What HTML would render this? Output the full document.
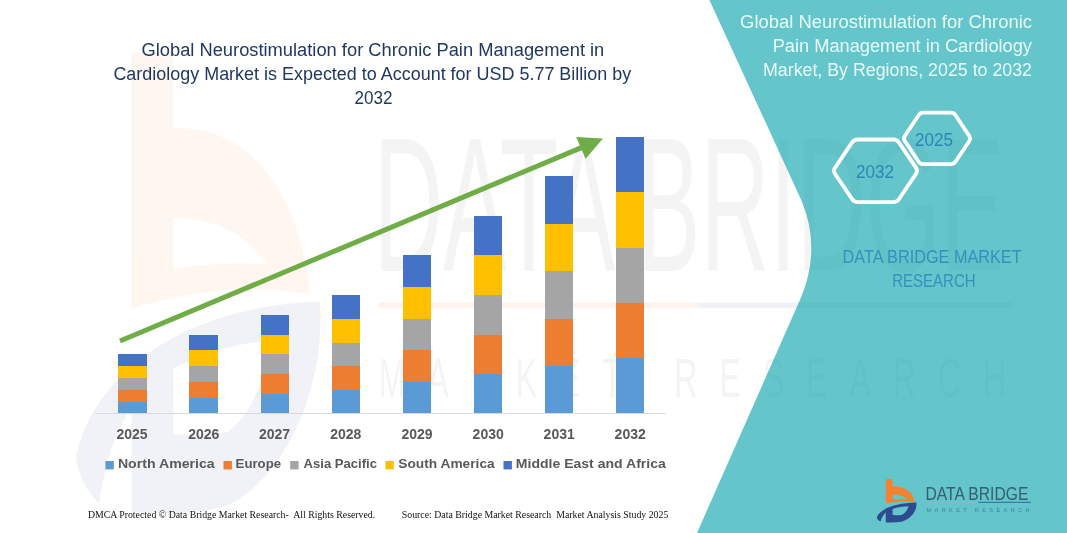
<!DOCTYPE html>
<html lang="en">
<head>
<meta charset="utf-8">
<title>Global Neurostimulation for Chronic Pain Management in Cardiology Market</title>
<style>
html,body{margin:0;padding:0;background:#fff;}
body{width:1067px;height:533px;overflow:hidden;}
svg{display:block;}
.sans{font-family:"Liberation Sans","DejaVu Sans",sans-serif;}
.serif{font-family:"Liberation Serif","DejaVu Serif",serif;}
</style>
</head>
<body>
<svg width="1067" height="533" viewBox="0 0 1067 533">
<rect width="1067" height="533" fill="#ffffff"/>

<!-- faint watermark (enlarged logo) -->
<g id="watermark" opacity="0.088" transform="translate(131.5,52.4) scale(6.15,10.6) translate(-885.8,-479.1)">
  <path d="M885.8 479.6 Q885.8 479.1 886.3 479.1 H892.1 Q892.6 479.1 892.6 479.6 V486.3 C903 485.8 913 491 914.8 501.9 C905 500.9 895 501.6 885.8 503.3 Z M892.6 494.7 C899 494.7 904.5 496.2 907.8 499.1 C902 498.9 897 499.1 892.6 499.6 Z" fill="#F58233" fill-opacity="0.85" fill-rule="evenodd"/>
  <path d="M876.8 517.2 C880 509 895 503 916.4 502.6 C917.5 510 911.5 519 901.5 521.8 C896 522.8 890 522.6 885.8 522.4 V512.5 C883 515 881.5 518 880.5 521.6 C878.5 520.5 877 519 876.8 517.2 Z M892.6 508.9 C898 507.3 903 506.5 908.6 506.3 C907.3 510.5 905 513.4 901.5 514.9 C898 515.2 895 515.2 892.6 515.1 Z" fill="#2F4B8F" fill-opacity="0.8" fill-rule="evenodd"/>
  <text class="sans" x="925.2" y="499.7" font-size="18" fill="#8E8E8E" textLength="102.5" lengthAdjust="spacingAndGlyphs">DATA BRIDGE</text>
  <rect x="926" y="502.7" width="52" height="0.5" fill="#F58233"/>
  <rect x="978" y="502.7" width="51" height="0.5" fill="#5B6B8F"/>
  <text class="sans" x="926" y="511.6" font-size="5.2" fill="#8E8E8E" textLength="102" lengthAdjust="spacing">MARKET RESEARCH</text>
</g>

<!-- teal panel -->
<path id="teal" d="M709.4 0 L801.2 200 Q821.6 247.6 801 297.5 L697 533 H1067 V0 Z" fill="rgb(17,166,175)" fill-opacity="0.65"/>

<!-- main title -->
<g class="sans" fill="#203864" font-size="18">
  <text x="141.5" y="56" textLength="462.8" lengthAdjust="spacingAndGlyphs">Global Neurostimulation for Chronic Pain Management in</text>
  <text x="113.4" y="80" textLength="517.8" lengthAdjust="spacingAndGlyphs">Cardiology Market is Expected to Account for USD 5.77 Billion by</text>
  <text x="354.4" y="104" textLength="38" lengthAdjust="spacingAndGlyphs">2032</text>
</g>

<!-- axis -->
<rect x="95.5" y="413" width="570" height="1" fill="#D9D9D9"/>

<!-- bars -->
<g id="bars" shape-rendering="crispEdges">
  <!-- 2025 -->
  <rect x="118" y="354" width="29" height="12" fill="#4472C4"/>
  <rect x="118" y="366" width="29" height="12" fill="#FFC000"/>
  <rect x="118" y="378" width="29" height="12" fill="#A5A5A5"/>
  <rect x="118" y="390" width="29" height="12" fill="#ED7D31"/>
  <rect x="118" y="402" width="29" height="11" fill="#5B9BD5"/>
  <!-- 2026 -->
  <rect x="189" y="335" width="29" height="15" fill="#4472C4"/>
  <rect x="189" y="350" width="29" height="16" fill="#FFC000"/>
  <rect x="189" y="366" width="29" height="16" fill="#A5A5A5"/>
  <rect x="189" y="382" width="29" height="16" fill="#ED7D31"/>
  <rect x="189" y="398" width="29" height="15" fill="#5B9BD5"/>
  <!-- 2027 -->
  <rect x="261" y="315" width="28" height="20" fill="#4472C4"/>
  <rect x="261" y="335" width="28" height="19" fill="#FFC000"/>
  <rect x="261" y="354" width="28" height="20" fill="#A5A5A5"/>
  <rect x="261" y="374" width="28" height="20" fill="#ED7D31"/>
  <rect x="261" y="394" width="28" height="19" fill="#5B9BD5"/>
  <!-- 2028 -->
  <rect x="332" y="295" width="28" height="24" fill="#4472C4"/>
  <rect x="332" y="319" width="28" height="24" fill="#FFC000"/>
  <rect x="332" y="343" width="28" height="23" fill="#A5A5A5"/>
  <rect x="332" y="366" width="28" height="24" fill="#ED7D31"/>
  <rect x="332" y="390" width="28" height="23" fill="#5B9BD5"/>
  <!-- 2029 -->
  <rect x="403" y="255" width="28" height="32" fill="#4472C4"/>
  <rect x="403" y="287" width="28" height="32" fill="#FFC000"/>
  <rect x="403" y="319" width="28" height="31" fill="#A5A5A5"/>
  <rect x="403" y="350" width="28" height="32" fill="#ED7D31"/>
  <rect x="403" y="382" width="28" height="31" fill="#5B9BD5"/>
  <!-- 2030 -->
  <rect x="474" y="216" width="28" height="39" fill="#4472C4"/>
  <rect x="474" y="255" width="28" height="40" fill="#FFC000"/>
  <rect x="474" y="295" width="28" height="40" fill="#A5A5A5"/>
  <rect x="474" y="335" width="28" height="39" fill="#ED7D31"/>
  <rect x="474" y="374" width="28" height="39" fill="#5B9BD5"/>
  <!-- 2031 -->
  <rect x="545" y="176" width="28" height="48" fill="#4472C4"/>
  <rect x="545" y="224" width="28" height="47" fill="#FFC000"/>
  <rect x="545" y="271" width="28" height="48" fill="#A5A5A5"/>
  <rect x="545" y="319" width="28" height="47" fill="#ED7D31"/>
  <rect x="545" y="366" width="28" height="47" fill="#5B9BD5"/>
  <!-- 2032 -->
  <rect x="616" y="137" width="28" height="55" fill="#4472C4"/>
  <rect x="616" y="192" width="28" height="56" fill="#FFC000"/>
  <rect x="616" y="248" width="28" height="55" fill="#A5A5A5"/>
  <rect x="616" y="303" width="28" height="55" fill="#ED7D31"/>
  <rect x="616" y="358" width="28" height="55" fill="#5B9BD5"/>
</g>

<!-- arrow -->
<g id="arrow" fill="#70AD47" stroke="none">
  <line x1="120" y1="341" x2="582" y2="147.4" stroke="#70AD47" stroke-width="5"/>
  <polygon points="603,138.6 576.2,136.9 585.6,158.8"/>
</g>

<!-- year labels -->
<g class="sans" font-size="14" font-weight="bold" fill="#595959" text-anchor="middle">
  <text x="132" y="439">2025</text>
  <text x="203.8" y="439">2026</text>
  <text x="274.5" y="439">2027</text>
  <text x="345.8" y="439">2028</text>
  <text x="417" y="439">2029</text>
  <text x="488.2" y="439">2030</text>
  <text x="559.2" y="439">2031</text>
  <text x="630.2" y="439">2032</text>
</g>

<!-- legend -->
<g id="legend" class="sans" font-size="13.3" font-weight="bold" fill="#595959">
  <rect x="105.4" y="461" width="8.4" height="8.4" fill="#5B9BD5"/>
  <text x="117.9" y="468.4" textLength="96.8" lengthAdjust="spacingAndGlyphs">North America</text>
  <rect x="223.5" y="461" width="8.4" height="8.4" fill="#ED7D31"/>
  <text x="235.6" y="468.4" textLength="45.5" lengthAdjust="spacingAndGlyphs">Europe</text>
  <rect x="290.2" y="461" width="8.4" height="8.4" fill="#A5A5A5"/>
  <text x="303.6" y="468.4" textLength="73.4" lengthAdjust="spacingAndGlyphs">Asia Pacific</text>
  <rect x="385.4" y="461" width="8.4" height="8.4" fill="#FFC000"/>
  <text x="398.3" y="468.4" textLength="96.4" lengthAdjust="spacingAndGlyphs">South America</text>
  <rect x="503.5" y="461" width="8.4" height="8.4" fill="#4472C4"/>
  <text x="515.8" y="468.4" textLength="150" lengthAdjust="spacingAndGlyphs">Middle East and Africa</text>
</g>

<!-- footer -->
<g class="serif" font-size="10" fill="#111" style="white-space:pre">
  <text xml:space="preserve" x="87.9" y="518" textLength="287.3" lengthAdjust="spacingAndGlyphs">DMCA Protected © Data Bridge Market Research-  All Rights Reserved.</text>
  <text xml:space="preserve" x="401.8" y="518" textLength="266.5" lengthAdjust="spacingAndGlyphs">Source: Data Bridge Market Research  Market Analysis Study 2025</text>
</g>

<!-- right panel title -->
<g class="sans" fill="#EAFBFB" font-size="18">
  <text x="740.1" y="28" textLength="291.9" lengthAdjust="spacingAndGlyphs">Global Neurostimulation for Chronic</text>
  <text x="772.7" y="52" textLength="259.3" lengthAdjust="spacingAndGlyphs">Pain Management in Cardiology</text>
  <text x="763" y="76" textLength="269" lengthAdjust="spacingAndGlyphs">Market, By Regions, 2025 to 2032</text>
</g>

<!-- hexagons -->
<g fill="none" stroke="#ffffff" stroke-width="3.8" stroke-linejoin="round">
  <path d="M834.9 173.7 Q832.9 170.8 834.9 167.9 L852.1 142.4 Q854.1 139.5 857.6 139.5 L893.4 139.5 Q896.9 139.5 898.9 142.4 L916.1 167.9 Q918.1 170.8 916.1 173.7 L898.9 199.2 Q896.9 202.1 893.4 202.1 L857.6 202.1 Q854.1 202.1 852.1 199.2 Z"/>
  <path d="M904.8 140.9 Q903.1 138.4 904.8 136.0 L918.6 115.2 Q920.2 112.7 923.2 112.7 L950.8 112.7 Q953.8 112.7 955.5 115.2 L969.3 136.0 Q970.9 138.4 969.3 140.9 L955.5 161.7 Q953.8 164.1 950.8 164.1 L923.2 164.1 Q920.2 164.1 918.6 161.7 Z"/>
</g>
<g class="sans" fill="#2E86B8" font-size="18">
  <text x="856" y="178" textLength="38" lengthAdjust="spacingAndGlyphs">2032</text>
  <text x="915" y="145.8" textLength="38" lengthAdjust="spacingAndGlyphs">2025</text>
</g>

<!-- DBMR label -->
<g class="sans" fill="#3591BC" font-size="18">
  <text x="842.6" y="262.8" textLength="179" lengthAdjust="spacingAndGlyphs">DATA BRIDGE MARKET</text>
  <text x="892.2" y="286.5" textLength="83.4" lengthAdjust="spacingAndGlyphs">RESEARCH</text>
</g>

<!-- logo bottom right -->
<g id="logo">
  <path d="M885.8 479.6 Q885.8 479.1 886.3 479.1 H892.1 Q892.6 479.1 892.6 479.6 V486.3 C903 485.8 913 491 914.8 501.9 C905 500.9 895 501.6 885.8 503.3 Z M892.6 494.7 C899 494.7 904.5 496.2 907.8 499.1 C902 498.9 897 499.1 892.6 499.6 Z" fill="#F58233" fill-rule="evenodd"/>
  <path d="M876.8 517.2 C880 509 895 503 916.4 502.6 C917.5 510 911.5 519 901.5 521.8 C896 522.8 890 522.6 885.8 522.4 V512.5 C883 515 881.5 518 880.5 521.6 C878.5 520.5 877 519 876.8 517.2 Z M892.6 508.9 C898 507.3 903 506.5 908.6 506.3 C907.3 510.5 905 513.4 901.5 514.9 C898 515.2 895 515.2 892.6 515.1 Z" fill="#2F4B8F" fill-rule="evenodd"/>
  <text class="sans" x="925.4" y="499.6" font-size="18.8" fill="#336070" textLength="103" lengthAdjust="spacingAndGlyphs">DATA BRIDGE</text>
  <rect x="926" y="501.9" width="52" height="0.8" fill="#A9B4BC" opacity="0.7"/>
  <rect x="978" y="501.8" width="53" height="1" fill="#3465A8"/>
  <text class="sans" x="926.5" y="511.6" font-size="5.6" fill="#468592" textLength="103" lengthAdjust="spacing">MARKET RESEARCH</text>
</g>
</svg>
</body>
</html>
